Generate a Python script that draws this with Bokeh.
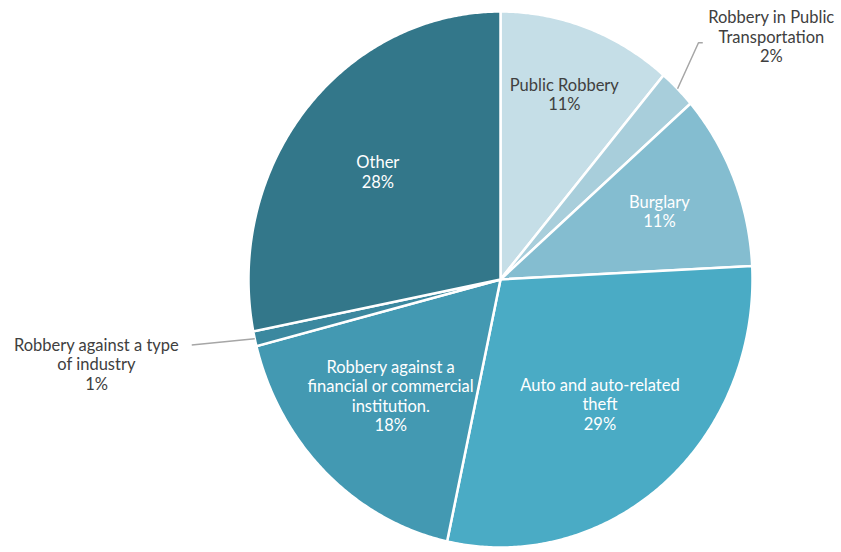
import numpy as np
from bokeh.plotting import figure
from bokeh.models import Range1d, ColumnDataSource
from bokeh.core.properties import value
from bokeh.embed import file_html
from bokeh.resources import INLINE

# ---- data ----
categories = ["Public Robbery", "Robbery in Public Transportation", "Burglary",
              "Auto and auto-related theft",
              "Robbery against a financial or commercial institution.",
              "Robbery against a type of industry", "Other"]
shares = [11.2, 2.4, 10.6, 29.2, 17.6, 0.9, 28.1]
label_text = ["Public Robbery", "Robbery in Public\nTransportation", "Burglary",
              "Auto and auto-related\ntheft",
              "Robbery against a\nfinancial or commercial\ninstitution.",
              "Robbery against a type\nof industry", "Other"]

# ---- styles / layout ----
colors = ["#c5dee7", "#a8cedb", "#84bdd0", "#4aabc5", "#4399b2", "#3b889f", "#33778a"]
text_colors = ["#404040", "#404040", "white", "white", "white", "#404040", "white"]
label_r = [0.735, None, 0.68, 0.61, 0.615, None, 0.63]
label_da = [0.0, 0.0, 0.0, 0.0, 0.02, 0.0, 0.0]   # small angular nudge (rad)
outside_pos = {1: (1.075, 0.906), 5: (-1.603, -0.317)}

W, H = 841, 552
cx_pg, cy_pg, rx_pg, ry_pg = 500, 279, 252, 268
p = figure(width=W, height=H, output_backend="svg", toolbar_location=None,
           x_range=Range1d(-cx_pg / rx_pg, (W - cx_pg) / rx_pg),
           y_range=Range1d(-(H - cy_pg) / ry_pg, cy_pg / ry_pg),
           min_border=0, outline_line_color=None)
p.axis.visible = False
p.grid.visible = False
p.background_fill_color = "white"

total = sum(shares)
fr = np.cumsum([0] + shares) / total
xs, ys = [], []
for i in range(len(shares)):
    a0, a1 = 2 * np.pi * fr[i], 2 * np.pi * fr[i + 1]
    t = np.linspace(a0, a1, max(8, int((a1 - a0) * 120)))
    xs.append([0.0] + list(np.sin(t)) + [0.0])
    ys.append([0.0] + list(np.cos(t)) + [0.0])
p.patches(xs, ys, fill_color=colors, line_color="white", line_width=2.5,
          line_join="miter")

lx, ly, lt, lc = [], [], [], []
lead_x, lead_y = [], []
for i, v in enumerate(shares):
    mid = 2 * np.pi * (fr[i] + fr[i + 1]) / 2 + label_da[i]
    txt = f"{label_text[i]}\n{v:.0f}%"
    if label_r[i] is not None:
        x, y = label_r[i] * np.sin(mid), label_r[i] * np.cos(mid)
    else:
        x, y = outside_pos[i]
        ex, ey = np.sin(mid), np.cos(mid)
        if x > 0:
            lead_x.append([ex, ex + 0.083, ex + 0.1])
            lead_y.append([ey, ey + 0.172, ey + 0.172])
        else:
            lead_x.append([ex, ex - 0.25])
            lead_y.append([ey, ey - 0.023])
    lx.append(x); ly.append(y); lt.append(txt); lc.append(text_colors[i])

p.multi_line(lead_x, lead_y, line_color="#a6a6a6", line_width=1.5)
src = ColumnDataSource(dict(x=lx, y=ly, text=lt, color=lc))
p.text("x", "y", text="text", source=src, text_color="color",
       text_font=value("Lato"), text_font_size="16.5px", text_align="center",
       text_baseline="middle", text_line_height=0.98)

open("out.html", "w").write(file_html(p, INLINE))
